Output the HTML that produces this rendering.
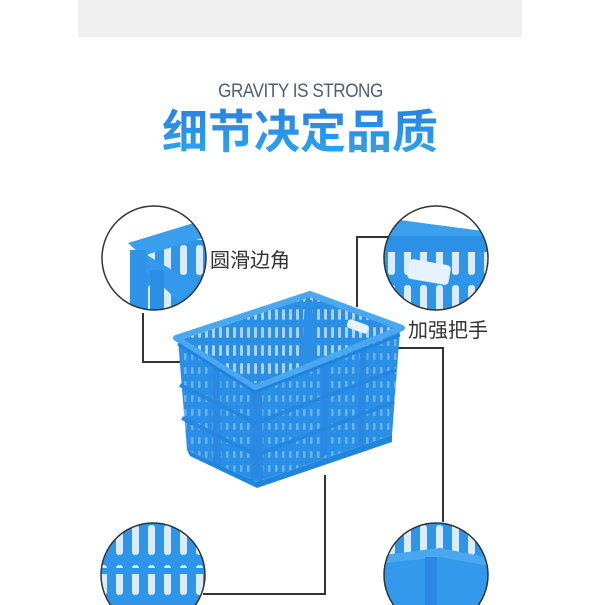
<!DOCTYPE html>
<html><head><meta charset="utf-8"><style>
html,body{margin:0;padding:0;background:#fff;}
body{width:600px;height:605px;position:relative;overflow:hidden;font-family:"Liberation Sans","Noto Sans CJK SC",sans-serif;}
.band{position:absolute;left:78px;top:0;width:444px;height:37px;background:#efefef;}
.en{position:absolute;left:0;width:600px;top:81px;text-align:center;font-size:19px;color:#4a5f78;letter-spacing:-0.5px;}
.en span{display:inline-block;transform:scaleX(0.9);}
.zh{position:absolute;left:0;width:600px;top:104px;text-align:center;font-size:46px;font-weight:bold;line-height:56px;
background:linear-gradient(#2a7fe0,#2aa8f0);-webkit-background-clip:text;background-clip:text;-webkit-text-fill-color:transparent;}
.lbl{position:absolute;font-size:20px;color:#333;}
</style></head><body>
<div class="band"></div>
<div class="en"><span>GRAVITY IS STRONG</span></div>
<div class="zh">细节决定品质</div>
<div class="lbl" style="left:210px;top:244px;">圆滑边角</div>
<div class="lbl" style="left:408px;top:314px;">加强把手</div>
<svg width="600" height="605" style="position:absolute;left:0;top:0" xmlns="http://www.w3.org/2000/svg">
<defs>
<pattern id="slots" width="7" height="18" patternUnits="userSpaceOnUse">
<rect width="7" height="18" fill="#2c8fe6"/>
<rect x="2" y="3" width="3" height="11" rx="1.5" fill="#a9d3f6"/>
</pattern>
<pattern id="faint" width="7" height="14" patternUnits="userSpaceOnUse">
<rect width="7" height="14" fill="#2a8fe6"/>
<rect x="2" y="3" width="2.5" height="7" rx="1" fill="#69b3ee"/>
</pattern>
<pattern id="bigslots" width="16" height="40" patternUnits="userSpaceOnUse">
<rect width="16" height="40" fill="#2d95ea"/>
<rect x="4" y="5" width="7" height="30" rx="3" fill="#d8ecfb"/>
</pattern>
<clipPath id="c1"><circle cx="154" cy="258" r="52"/></clipPath>
<clipPath id="c2"><circle cx="436" cy="258" r="52"/></clipPath>
<clipPath id="c3"><circle cx="153" cy="575" r="52"/></clipPath>
<clipPath id="c4"><circle cx="436" cy="575" r="52"/></clipPath>
</defs>
<g fill="none" stroke="#333" stroke-width="2">
<polyline points="143,313 143,362 180,362"/>
<polyline points="388,237 357,237 357,307"/>
<polyline points="398,348 443,348 443,522"/>
<polyline points="203,594 325,594 325,475"/>
</g>
<!-- crate -->
<!-- interior back walls -->
<polygon points="180,340 310,297 400,330 255,385" fill="url(#slots)"/>
<polygon points="305,300 312,300 318,390 300,390" fill="#2c8fe6"/>
<rect x="347" y="322" width="22" height="9" rx="3" fill="#e8f3fc" transform="rotate(20 358 326)"/>
<!-- left face -->
<polygon points="178,340 255,385 257,482 187,450" fill="url(#faint)"/>
<!-- right face -->
<polygon points="255,385 400,330 392,435 257,482" fill="url(#faint)"/>
<!-- posts -->
<g fill="#2a8ae3">
<polygon points="250,383 262,383 263,482 251,480"/>
<polygon points="322,358 330,355 327,455 320,458"/>
<polygon points="360,344 367,341 364,445 357,447"/>
<polygon points="212,360 220,364 221,466 213,462"/>
</g>
<!-- horizontal bands -->
<g fill="none" stroke="#2587e0" stroke-width="4">
<polyline points="180,385 256,423 396,370"/>
<polyline points="182,418 256,455 394,402"/>
</g>
<!-- rim -->
<polygon points="176,338 310,294 402,328 255,388" fill="none" stroke="#4aa8f0" stroke-width="6" stroke-linejoin="round"/>
<polyline points="178,344 255,392 400,335" fill="none" stroke="#1f84dc" stroke-width="3"/>
<polygon points="187,450 257,482 392,435 392,442 257,488 190,456" fill="#2085dd"/>
<!-- circles -->
<g clip-path="url(#c1)">
<rect x="145" y="240" width="70" height="80" fill="url(#bigslots)"/>
<polygon points="128,243 210,218 210,236 142,256" fill="#3a9eee"/>
<polygon points="130,250 145,254 215,295 215,320 200,320 135,262" fill="#3399ec"/>
<rect x="130" y="250" width="16" height="75" fill="#2f93e8"/>
<rect x="150" y="270" width="14" height="55" fill="#2b8fe6"/>
</g>
<g clip-path="url(#c2)"><rect x="380" y="200" width="110" height="120" fill="url(#bigslots)"/>
<polygon points="380,200 490,200 490,232 380,218" fill="#fff"/>
<path d="M385,218 L490,232 L490,250 L385,236Z" fill="#3aa0ee"/>
<rect x="385" y="236" width="105" height="16" fill="#2c90e7"/>
<rect x="408" y="262" width="42" height="20" rx="4" fill="#e6f2fc" transform="rotate(10 429 272)"/></g>
<g clip-path="url(#c3)"><rect x="95" y="520" width="120" height="110" fill="url(#bigslots)"/>
<rect x="95" y="568" width="120" height="6" fill="#2d95ea"/></g>
<g clip-path="url(#c4)"><rect x="380" y="520" width="120" height="110" fill="url(#bigslots)"/>
<path d="M385,555 L440,548 L490,558 L490,605 L385,605Z" fill="#3399ec"/>
<path d="M385,555 L440,548 L490,558 L490,566 L440,557 L385,563Z" fill="#4aa8f0"/>
<rect x="425" y="557" width="12" height="48" fill="#2a8ae3"/></g>
<g fill="none" stroke="#333" stroke-width="1.5">
<circle cx="154" cy="258" r="52"/><circle cx="436" cy="258" r="52"/>
<circle cx="153" cy="575" r="52"/><circle cx="436" cy="575" r="52"/>
</g>
</svg>
</body></html>
